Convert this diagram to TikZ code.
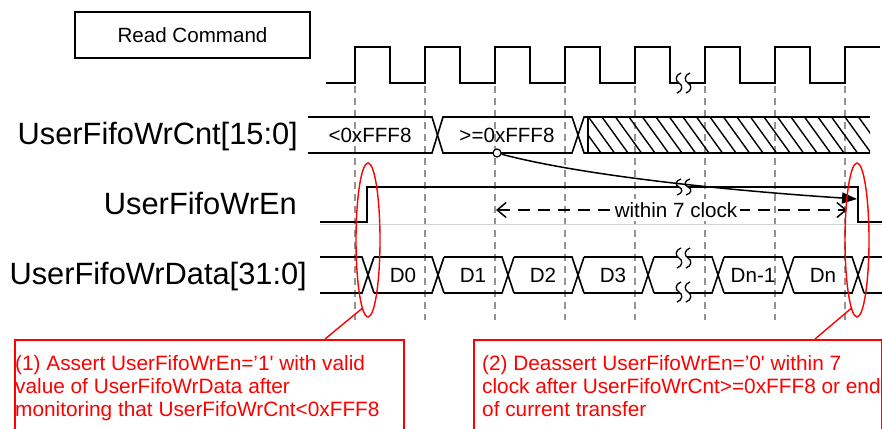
\documentclass[tikz,border=0pt]{standalone}
\usepackage{fontspec}
\setmainfont{Liberation Sans}
\usetikzlibrary{positioning,calc,arrows.meta,shapes.geometric}

\tikzset{
  wave/.style={line width=1.6pt},
  gridline/.style={gray!85, line width=1.1pt, dash pattern=on 7pt off 5pt},
  signame/.style={inner sep=0pt, anchor=base east, font=\fontsize{30.8}{31}\selectfont},
  val/.style={inner sep=0pt, font=\fontsize{20.6}{24}\selectfont},
  ring/.style={ellipse, draw=red, line width=1.4pt, minimum width=24pt, minimum height=154pt, inner sep=0pt},
  notebox/.style={draw=red, line width=1.8pt, anchor=north west, minimum height=110pt, inner sep=0pt},
  notetext/.style={text=red, anchor=north west, align=left, inner sep=0pt, font=\fontsize{20.8}{23.3}\selectfont},
  brk/.pic={
    \fill[white] (-2,-10) .. controls (-8,-8) and (-8,-2) .. (-4,0) .. controls (0,2) and (0,8) .. (-6,10)
      -- (3,10) .. controls (9,8) and (9,2) .. (5,0) .. controls (1,-2) and (1,-8) .. (7,-10) -- cycle;
    \draw[line width=1.3pt] (-2,-10) .. controls (-8,-8) and (-8,-2) .. (-4,0) .. controls (0,2) and (0,8) .. (-6,10)
      (7,-10) .. controls (1,-8) and (1,-2) .. (5,0) .. controls (9,2) and (9,8) .. (3,10);
  }
}

\begin{document}
\begin{tikzpicture}[x=1pt,y=-1pt]
    \useasboundingbox (0,0) rectangle (882,428);
    \clip (0,0) rectangle (882,428);

    \node[draw, line width=1.2pt, minimum width=235pt, minimum height=46pt, inner sep=0pt,
          font=\fontsize{20.6}{24}\selectfont] (cmd) at (192.5,35) {Read Command};

    % signal names
    \node[signame] (cnt) at (298,144) {UserFifoWrCnt[15:0]};
    \node[signame] (en) at (297,214) {UserFifoWrEn};
    \node[signame] (dat) at (307,284) {UserFifoWrData[31:0]};

    % clock and rising edges
    \foreach \k in {0,...,7}
        \draw[gridline] (355+70*\k,86) -- (355+70*\k,320);
    \draw[wave] (326,83) foreach \k in {0,...,6} { -- (355+70*\k,83) -- (355+70*\k,47) -- (390+70*\k,47) -- (390+70*\k,83) }
        -- (845,83) -- (845,47) -- (880,47);
    \pic at (683,83) {brk};

    % fifo count
    \draw[wave] (308,117) -- (432,117) -- (443,153) -- (572,153) -- (584,117) -- (588,117);
    \draw[wave] (308,153) -- (432,153) -- (443,117) -- (572,117) -- (584,153) -- (588,153);
    \begin{scope}
        \clip (588,117) rectangle (870,153);
        \foreach \x in {575,588.5,...,870}
            \draw[line width=1.4pt] (\x,117) -- (\x+26,153);
    \end{scope}
    \draw[wave] (870,117) -- (588,117) -- (588,153) -- (870,153);
    \node[val] (lo) at (370,135) {<0xFFF8};
    \node[val] (hi) at (507,135) {>=0xFFF8};

    % write enable
    \draw[gray!35, line width=1pt] (320,224) -- (882,224);
    \draw[wave] (320,222) -- (367,222) -- (367,187) -- (858,187) -- (858,222) -- (882,222);
    \pic[yscale=0.8] at (683,187) {brk};

    % write data
    \foreach \c [remember=\c as \p (initially 314)] in {368,438,...,858} {
        \draw[wave] (\p+6,257) -- (\c-6,257) -- (\c+6,293);
        \draw[wave] (\p+6,293) -- (\c-6,293) -- (\c+6,257);
    }
    \draw[wave] (864,257) -- (882,257) (864,293) -- (882,293);
    \pic at (683,258) {brk};
    \pic at (683,292) {brk};
    \foreach \t/\x [count=\i] in {D0/403,D1/473,D2/543,D3/613,Dn-1/753,Dn/823}
        \node[val] (d\i) at (\x,275) {\t};

    % 7 clock window
    \coordinate (w0) at (496,210);
    \coordinate (w1) at (847,210);
    \draw[line width=1.5pt, dash pattern=on 12pt off 8pt,
          {Straight Barb[length=9pt,width=15pt]}-{Straight Barb[length=9pt,width=15pt]}] (w0) -- (w1);
    \node[val, fill=white, inner sep=3pt] (win) at (676,210) {within 7 clock};

    \node[circle, draw, line width=1.2pt, fill=white, minimum size=8pt, inner sep=0pt] (pt) at (497,153) {};
    \coordinate (fall) at (857,199);
    \draw[line width=1.5pt, -{Triangle[length=15pt,width=11pt]}] (pt) .. controls (580,175) and (720,190) .. (fall);

    % notes
    \node[ring] (r1) at (368,240) {};
    \node[ring] (r2) at (857,240) {};
    \node[notebox, minimum width=389pt] (n1) at (14,339) {};
    \node[notebox, minimum width=408pt] (n2) at (473,339) {};
    \node[notetext] (t1) at (15,355) {(1) Assert UserFifoWrEn='1\textquotesingle{} with valid\\value of UserFifoWrData after\\monitoring that UserFifoWrCnt<0xFFF8};
    \node[notetext] (t2) at (482,355) {(2) Deassert UserFifoWrEn='0\textquotesingle{} within 7\\clock after UserFifoWrCnt>=0xFFF8 or end\\of current transfer};
    \draw[red, line width=1.4pt] (r1.265) -- ($(n1.north west)+(311,0)$);
    \draw[red, line width=1.4pt] (r2.265) -- ($(n2.north west)+(342,0)$);
\end{tikzpicture}
\end{document}
